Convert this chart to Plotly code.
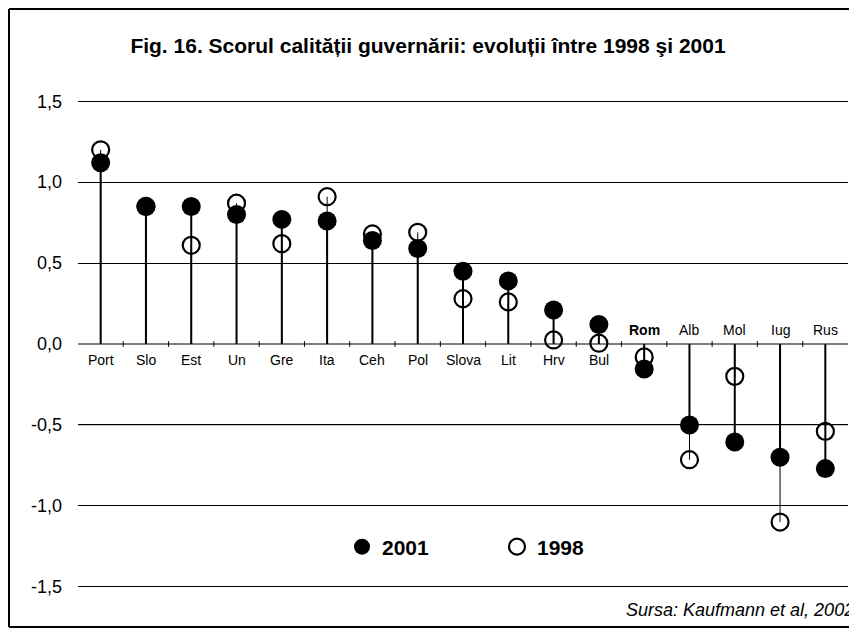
import plotly.graph_objects as go

categories = ["Port", "Slo", "Est", "Un", "Gre", "Ita", "Ceh", "Pol", "Slova",
              "Lit", "Hrv", "Bul", "Rom", "Alb", "Mol", "Iug", "Rus"]
score_2001 = [1.12, 0.85, 0.85, 0.80, 0.77, 0.76, 0.64, 0.59, 0.45,
              0.39, 0.21, 0.12, -0.155, -0.50, -0.605, -0.70, -0.77]
score_1998 = [1.20, 0.85, 0.61, 0.87, 0.62, 0.91, 0.68, 0.69, 0.28,
              0.26, 0.025, 0.005, -0.08, -0.715, -0.20, -1.10, -0.54]
y_ticks = [-1.5, -1.0, -0.5, 0.0, 0.5, 1.0, 1.5]
y_tick_labels = ["-1,5", "-1,0", "-0,5", "0,0", "0,5", "1,0", "1,5"]
title_text = "Fig. 16. Scorul calității guvernării: evoluții între 1998 şi 2001"
source_text = "Sursa: Kaufmann et al, 2002"
bold_category = "Rom"

OFF = 8  # page body margin: figure origin sits at page (8, 8)
W, H = 849, 625
ML, MR, MT, MB = 70, 9, 90, 43
plot_w = W - ML - MR
plot_h = H - MT - MB
FONT = "Liberation Sans, Arial"


def px_x(page_x):
    return (page_x - OFF - ML) / plot_w


def px_y(page_y):
    return (H - MB - (page_y - OFF)) / plot_h


xs = list(range(len(categories)))


def stems(values):
    sx, sy = [], []
    for i, v in zip(xs, values):
        sx += [i, i, None]
        sy += [0, v, None]
    return sx, sy


fig = go.Figure()

s98x, s98y = stems(score_1998)
s01x, s01y = stems(score_2001)
fig.add_trace(go.Scatter(x=s98x, y=s98y, mode="lines", line=dict(color="#000", width=1),
                         showlegend=False, hoverinfo="skip"))
fig.add_trace(go.Scatter(x=s01x, y=s01y, mode="lines", line=dict(color="#000", width=2),
                         showlegend=False, hoverinfo="skip"))

# small ticks at category boundaries on the zero line
fig.add_trace(go.Scatter(x=[i + 0.5 for i in xs[:-1]], y=[0] * (len(xs) - 1), mode="markers",
                         marker=dict(symbol="line-ns", size=4, line=dict(color="#000", width=1)),
                         showlegend=False, hoverinfo="skip"))

fig.add_trace(go.Scatter(x=xs, y=score_1998, mode="markers", name="1998",
                         marker=dict(symbol="circle-open", size=17, color="#000",
                                     line=dict(color="#000", width=2.2))))
fig.add_trace(go.Scatter(x=xs, y=score_2001, mode="markers", name="2001",
                         marker=dict(symbol="circle", size=19, color="#000",
                                     line=dict(width=0))))

annotations = []
for i, (c, v) in enumerate(zip(categories, score_2001)):
    if v >= 0:
        annotations.append(dict(x=i, y=0, xref="x", yref="y", text=c, showarrow=False,
                                yanchor="top", yshift=-6,
                                font=dict(family=FONT, size=14, color="#000")))
    else:
        txt = "<b>%s</b>" % c if c == bold_category else c
        annotations.append(dict(x=i, y=0, xref="x", yref="y", text=txt, showarrow=False,
                                yanchor="bottom", yshift=4,
                                font=dict(family=FONT, size=14, color="#000")))

annotations.append(dict(x=px_x(856), y=px_y(610), xref="paper", yref="paper",
                        text="<i>%s</i>" % source_text, showarrow=False,
                        xanchor="right", yanchor="middle",
                        font=dict(family=FONT, size=18, color="#000")))

shapes = [
    # gray -0.5 gridline
    dict(type="line", xref="paper", yref="y", x0=0, x1=1, y0=-0.5, y1=-0.5,
         line=dict(color="#808080", width=1), layer="between"),
    # outer frame (top, left, bottom)
    dict(type="line", xref="paper", yref="paper", x0=px_x(9), x1=px_x(870),
         y0=px_y(9), y1=px_y(9), line=dict(color="#000", width=2)),
    dict(type="line", xref="paper", yref="paper", x0=px_x(9), x1=px_x(9),
         y0=px_y(9), y1=px_y(627), line=dict(color="#000", width=2)),
    dict(type="line", xref="paper", yref="paper", x0=px_x(9), x1=px_x(870),
         y0=px_y(627), y1=px_y(627), line=dict(color="#000", width=2)),
]

fig.update_layout(
    width=W, height=H,
    margin=dict(l=ML, r=MR, t=MT, b=MB),
    paper_bgcolor="white", plot_bgcolor="white",
    title=dict(text="<b>%s</b>" % title_text, x=(428 - OFF) / W, xanchor="center", xref="container",
               y=1 - (46 - OFF) / H, yanchor="middle", yref="container",
               font=dict(family=FONT, size=21, color="#000")),
    xaxis=dict(range=[-0.5, len(categories) - 0.5], showgrid=False, zeroline=False,
               showticklabels=False, ticks="", showline=False, fixedrange=True),
    yaxis=dict(range=[-1.52, 1.52], tickvals=y_ticks, ticktext=y_tick_labels,
               showgrid=True, gridcolor="#000", gridwidth=1,
               zeroline=True, zerolinecolor="#808080", zerolinewidth=2,
               showline=False, ticks="", ticklabelstandoff=15,
               tickfont=dict(family=FONT, size=18, color="#000")),
    showlegend=True,
    legend=dict(orientation="h", x=px_x(342), xanchor="left",
                y=px_y(547), yanchor="middle",
                entrywidth=110, traceorder="reversed",
                font=dict(family=FONT, size=21, color="#000", weight="bold"),
                bgcolor="rgba(0,0,0,0)"),
    annotations=annotations,
    shapes=shapes,
)

fig.write_html("out.html")
